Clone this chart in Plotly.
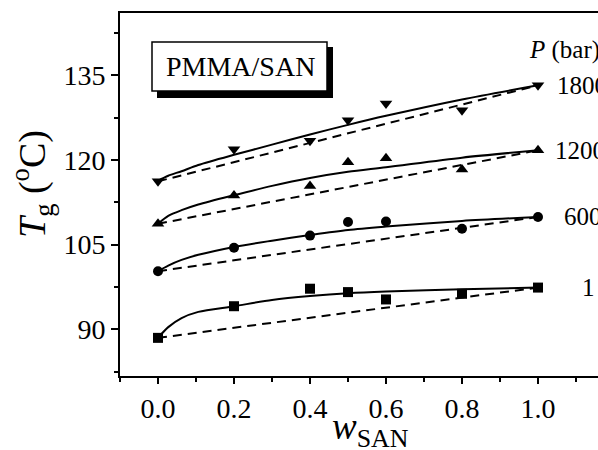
import plotly.graph_objects as go

# Measured data points
x_pts = [0.0, 0.2, 0.4, 0.5, 0.6, 0.8, 1.0]
tg_1 = [88.5, 94.1, 97.2, 96.6, 95.3, 96.3, 97.4]
tg_600 = [100.3, 104.45, 106.6, 109.0, 109.1, 107.8, 109.9]
tg_1200 = [108.7, 113.7, 115.4, 119.6, 120.3, 118.3, 121.7]
tg_1800 = [116.2, 121.9, 123.4, 127.0, 130.0, 128.8, 133.2]

# Fitted curves
x_fit = [0.0, 0.027, 0.062, 0.106, 0.2, 0.3, 0.4, 0.5, 0.6, 0.8, 1.0]
fit_1 = [88.5, 90.4, 92.0, 93.1, 94.1, 95.2, 95.9, 96.4, 96.7, 97.1, 97.4]
fit_600 = [100.3, 101.3, 102.3, 103.2, 104.6, 105.7, 106.7, 107.6, 108.2, 109.2, 109.9]
fit_1200 = [108.7, 110.1, 111.1, 112.1, 113.75, 115.4, 116.8, 117.9, 118.7, 120.4, 121.7]
fit_1800 = [116.3, 117.2, 118.0, 119.1, 120.9, 122.7, 124.5, 126.2, 127.8, 130.7, 133.2]

pressures = ["1", "600", "1200", "1800"]
label_x = [1.11, 1.063, 1.04, 1.045]

x_ticks = [0.0, 0.2, 0.4, 0.6, 0.8, 1.0]
x_ticklabels = ["0.0", "0.2", "0.4", "0.6", "0.8", "1.0"]
y_ticks = [90, 105, 120, 135]

series = [
    (tg_1, fit_1, "square", 10),
    (tg_600, fit_600, "circle", 10),
    (tg_1200, fit_1200, "triangle-up", 11),
    (tg_1800, fit_1800, "triangle-down", 11),
]

FONT = "Liberation Serif"
fig = go.Figure()

for pts, fit, sym, sz in series:
    # linear mixing (dashed) line between pure components
    fig.add_trace(go.Scatter(x=[x_pts[0], x_pts[-1]], y=[pts[0], pts[-1]], mode="lines",
                             line=dict(color="black", width=2, dash="9px,6px"),
                             showlegend=False, hoverinfo="skip"))
    fig.add_trace(go.Scatter(x=x_fit, y=fit, mode="lines",
                             line=dict(color="black", width=2, shape="spline", smoothing=0.8),
                             showlegend=False, hoverinfo="skip"))
    fig.add_trace(go.Scatter(x=x_pts, y=pts, mode="markers",
                             marker=dict(symbol=sym, size=sz, color="black"),
                             showlegend=False))

annotations = []
for (pts, _, _, _), lab, lx in zip(series, pressures, label_x):
    annotations.append(dict(x=lx, y=pts[-1], xref="x", yref="y", text=lab, showarrow=False,
                            xanchor="left", yanchor="middle",
                            font=dict(family=FONT, size=25, color="black")))

L, T, B = 120, 13, 376
PW, PH = 478, B - T

def px(p):
    return (p - L) / PW

def py(p):
    return (B - p) / PH

annotations += [
    dict(x=px(527), y=py(50), xref="paper", yref="paper", text="<i>P</i> (bar)", showarrow=False,
         xanchor="left", yanchor="middle", font=dict(family=FONT, size=25, color="black")),
    dict(x=px(240), y=py(66), xref="paper", yref="paper", text="PMMA/SAN", showarrow=False,
         xanchor="center", yanchor="middle", font=dict(family=FONT, size=28, color="black")),
    dict(x=px(32), y=py(184), xref="paper", yref="paper", text="<i>T</i><sub>g</sub> (<sup>o</sup>C)",
         showarrow=False, textangle=-90, xanchor="center", yanchor="middle",
         font=dict(family=FONT, size=38, color="black")),
    dict(x=px(370), y=py(429), xref="paper", yref="paper", text="<i>w</i><sub>SAN</sub>",
         showarrow=False, xanchor="center", yanchor="middle",
         font=dict(family=FONT, size=37, color="black")),
]

shapes = [
    dict(type="rect", xref="paper", yref="paper", x0=px(157), x1=px(333), y0=py(98), y1=py(47),
         fillcolor="black", line=dict(width=0), layer="above"),
    dict(type="rect", xref="paper", yref="paper", x0=px(152), x1=px(327), y0=py(91), y1=py(42),
         fillcolor="white", line=dict(color="black", width=1.5), layer="above"),
]

fig.update_layout(
    width=598, height=450,
    margin=dict(l=L, r=0, t=T, b=450 - B),
    paper_bgcolor="white", plot_bgcolor="white",
    annotations=annotations, shapes=shapes,
    font=dict(family=FONT, color="black"),
    xaxis=dict(range=[-0.1, 1.1579], tickvals=x_ticks, ticktext=x_ticklabels,
               ticks="outside", ticklen=6, tickwidth=1.5, tickcolor="black",
               showline=True, linecolor="black", linewidth=2, mirror=True,
               showgrid=False, zeroline=False,
               tickfont=dict(family=FONT, size=28, color="black"),
               minor=dict(dtick=0.1, tick0=0, ticks="outside", ticklen=4, tickwidth=1.5, tickcolor="black")),
    yaxis=dict(range=[81.75, 146.0], tickvals=y_ticks,
               ticks="outside", ticklen=7, tickwidth=1.5, tickcolor="black",
               showline=True, linecolor="black", linewidth=2, mirror=False,
               showgrid=False, zeroline=False,
               tickfont=dict(family=FONT, size=28, color="black"),
               minor=dict(dtick=7.5, tick0=82.5, ticks="outside", ticklen=4, tickwidth=1.5, tickcolor="black")),
)

fig.write_html("out.html")
